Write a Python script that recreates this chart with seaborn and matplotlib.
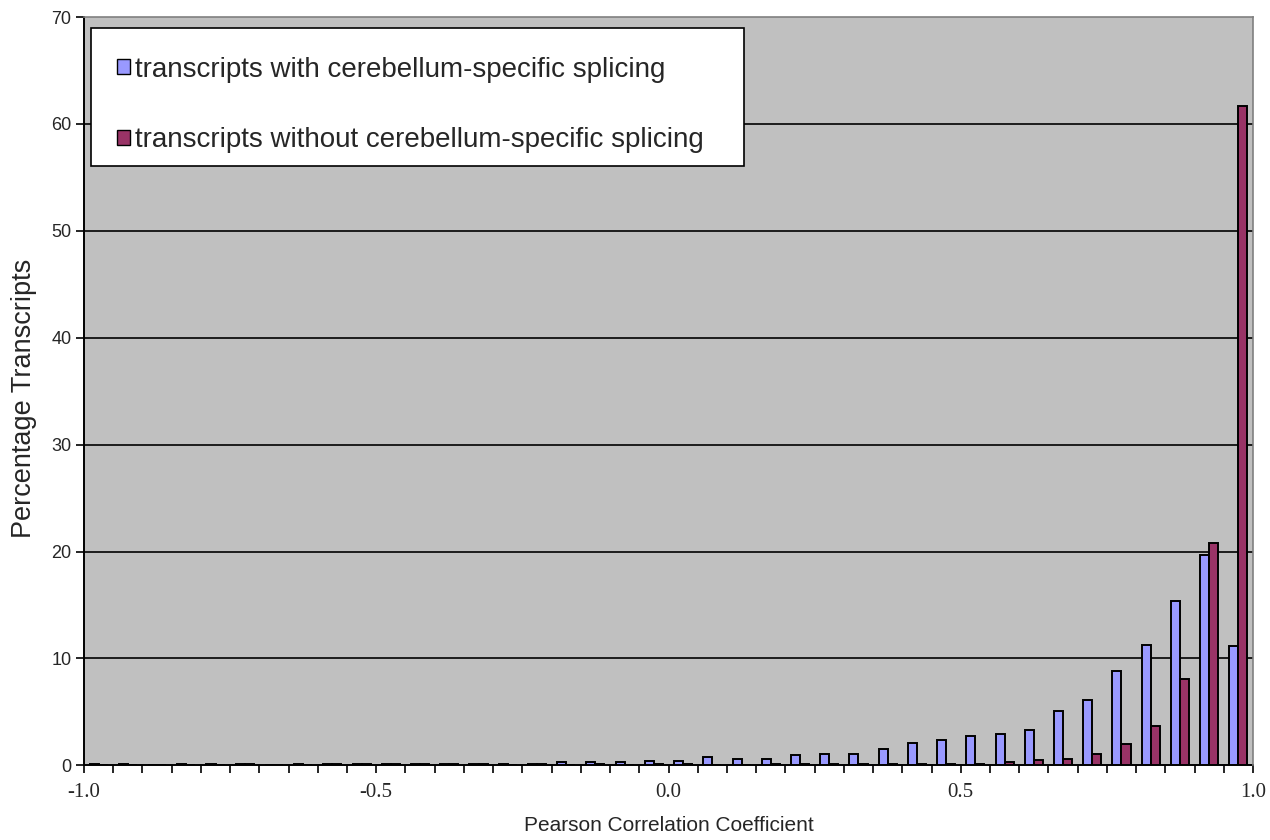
import numpy as np
import pandas as pd
import matplotlib
matplotlib.use("Agg")
import matplotlib.pyplot as plt
from matplotlib.patches import Rectangle, Patch
import seaborn as sns

# ---- data ----
bin_starts = [round(-1.0 + 0.05 * i, 2) for i in range(40)]
with_splicing = [0.1, 0.1, 0.0, 0.1, 0.1, 0.1, 0.0, 0.1, 0.12, 0.1,
                 0.1, 0.15, 0.1, 0.1, 0.12, 0.15, 0.35, 0.35, 0.3, 0.4,
                 0.4, 0.8, 0.6, 0.6, 1.0, 1.1, 1.1, 1.5, 2.1, 2.35,
                 2.7, 2.9, 3.3, 5.1, 6.1, 8.8, 11.3, 15.4, 19.7, 11.2]
without_splicing = [0.0, 0.0, 0.0, 0.0, 0.0, 0.1, 0.0, 0.0, 0.1, 0.1,
                    0.1, 0.1, 0.1, 0.1, 0.0, 0.1, 0.0, 0.1, 0.0, 0.1,
                    0.1, 0.0, 0.05, 0.1, 0.1, 0.1, 0.1, 0.1, 0.12, 0.12,
                    0.15, 0.35, 0.45, 0.6, 1.05, 2.0, 3.7, 8.1, 20.8, 61.7]
series_names = ["transcripts with cerebellum-specific splicing",
                "transcripts without cerebellum-specific splicing"]
series_colors = ["#9999FF", "#993366"]
x_tick_labels = ["-1.0", "-0.5", "0.0", "0.5", "1.0"]
y_ticks = [0, 10, 20, 30, 40, 50, 60, 70]

bin_labels = [f"{b:.2f}" for b in bin_starts]
df = pd.DataFrame({
    "bin": bin_labels * 2,
    "pct": with_splicing + without_splicing,
    "series": [series_names[0]] * 40 + [series_names[1]] * 40,
})

sns.set_theme(style="white")
plt.rcParams["font.family"] = ["Liberation Sans", "DejaVu Sans"]

fig = plt.figure(figsize=(12.7, 8.4), dpi=100)
ax = fig.add_axes([84 / 1270, 1 - 765.3 / 840, (1253 - 84) / 1270, (765.3 - 17) / 840])
ax.set_facecolor("#C0C0C0")

sns.barplot(data=df, x="bin", y="pct", hue="series", order=bin_labels,
            hue_order=series_names, palette=series_colors, width=0.62,
            edgecolor="black", linewidth=1.4, saturation=1, ax=ax,
            legend=False, zorder=3)

ax.set_xlim(-0.5, 39.5)
ax.set_ylim(0, 70)
ax.set_yticks(y_ticks)
ax.set_yticklabels([str(v) for v in y_ticks], fontsize=13)
for v in y_ticks[1:-1]:
    ax.axhline(v, color="black", linewidth=1.2, zorder=1)

major = [-0.5 + 10 * k for k in range(5)]
ax.set_xticks(major)
ax.set_xticklabels(x_tick_labels, fontsize=15, family=["Liberation Serif", "DejaVu Serif"])
ax.set_xticks([-0.5 + k for k in range(41)], minor=True)
ax.tick_params(axis="x", which="both", direction="out", length=6, width=1.2,
               color="black", bottom=True, pad=7)
ax.tick_params(axis="y", which="major", direction="out", length=6, width=1.2,
               color="black", left=True, pad=3)

for s in ["top", "right"]:
    ax.spines[s].set_color("#808080")
    ax.spines[s].set_linewidth(1.2)
for s in ["left", "bottom"]:
    ax.spines[s].set_color("black")
    ax.spines[s].set_linewidth(1.4)
    ax.spines[s].set_zorder(2)

ax.set_xlabel("Pearson Correlation Coefficient", fontsize=15, labelpad=10)
ax.set_ylabel("Percentage Transcripts", fontsize=19.5)
ax.yaxis.set_label_coords(-0.040, 0.49)

# legend box
ax.add_patch(Rectangle((0.006, 0.801), 0.559, 0.184, transform=ax.transAxes,
                       facecolor="white", edgecolor="black", linewidth=1.2,
                       zorder=5))
handles = [Patch(facecolor=c, edgecolor="black", linewidth=1.0) for c in series_colors]
leg = ax.legend(handles, series_names, loc="upper left",
                bbox_to_anchor=(0.028, 0.947), frameon=False, fontsize=20,
                handlelength=0.46, handleheight=0.46, handletextpad=0.18,
                labelspacing=1.6, borderpad=0, borderaxespad=0)
leg.set_zorder(6)

fig.savefig("out.png", dpi=100)
